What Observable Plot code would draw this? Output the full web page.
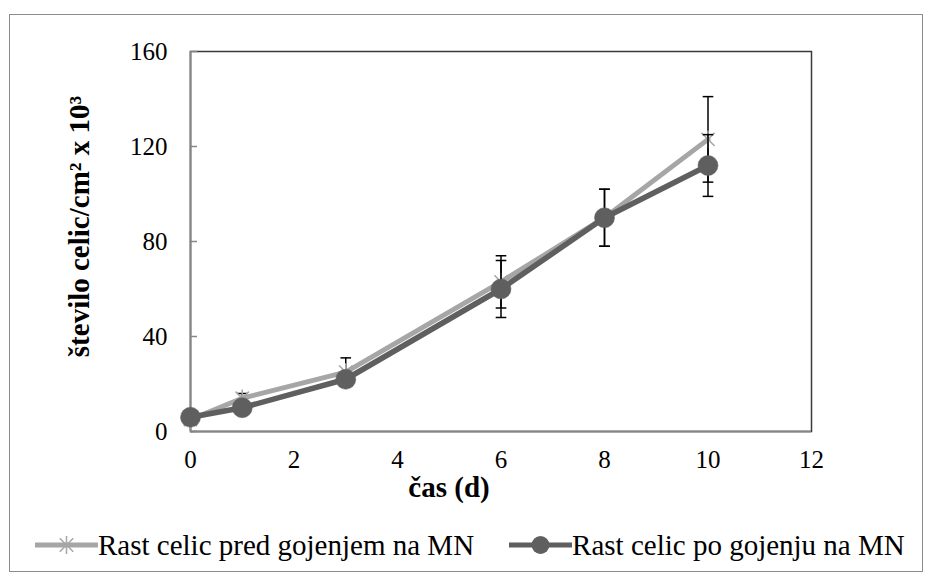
<!DOCTYPE html>
<html>
<head>
<meta charset="utf-8">
<script src="https://cdn.jsdelivr.net/npm/d3@7"></script>
<script src="https://cdn.jsdelivr.net/npm/@observablehq/plot@0.6"></script>
<style>
  html, body { margin: 0; padding: 0; background: #fff; }
  #wrap { position: relative; width: 925px; height: 583px; font-family: "Liberation Serif", "Times New Roman", serif; overflow: hidden; }
  #frame { position: absolute; left: 9px; top: 14px; width: 914px; height: 558px; border: 1.5px solid #8c8c8c; box-sizing: border-box; pointer-events: none; }
  #chart { position: absolute; left: 0; top: 0; }
  #legend { position: absolute; left: 35px; top: 527px; display: flex; align-items: center; font-size: 29px; line-height: 36px; color: #000; white-space: nowrap; }
  .item { display: flex; align-items: center; }
  .item svg { display: block; }
</style>
</head>
<body>
<div id="wrap">
  <div id="frame"></div>
  <div id="chart"></div>
  <div id="legend"></div>
</div>
<script>
// ---- data ----
const days = [0, 1, 3, 6, 8, 10];
const predValues = [5, 14, 25, 63, 90, 123];
const predErrors = [1.5, 2, 6, 11, 12, 18];
const poValues = [6, 10, 22, 60, 90, 112];
const poErrors = [1, 1.5, 3, 12, 12, 13];
const seriesNames = ["Rast celic pred gojenjem na MN", "Rast celic po gojenju na MN"];
const xTicks = [0, 2, 4, 6, 8, 10, 12];
const yTicks = [0, 40, 80, 120, 160];
const xTitle = "čas (d)";
const yTitle = "število celic/cm² x 10³";

const lightGray = "#a6a6a6";
const darkGray = "#5f5f5f";

const pred = days.map((d, i) => ({x: d, y: predValues[i], lo: predValues[i] - predErrors[i], hi: predValues[i] + predErrors[i]}));
const po = days.map((d, i) => ({x: d, y: poValues[i], lo: poValues[i] - poErrors[i], hi: poValues[i] + poErrors[i]}));

// custom symbols
const asterisk = {
  draw(ctx, size) {
    const r = Math.sqrt(size) / 2;
    const d = r * 0.75;
    ctx.moveTo(-d, -d); ctx.lineTo(d, d);
    ctx.moveTo(-d, d); ctx.lineTo(d, -d);
    ctx.moveTo(0, -r); ctx.lineTo(0, r);
  }
};
const cap = {
  draw(ctx, size) {
    const r = Math.sqrt(size) / 2;
    ctx.moveTo(-r, 0); ctx.lineTo(r, 0);
  }
};

function errorMarks(data) {
  return [
    Plot.ruleX(data, {x: "x", y1: "lo", y2: "hi", stroke: "#000", strokeWidth: 1.5}),
    Plot.dot(data, {x: "x", y: "lo", symbol: cap, r: 6, stroke: "#000", strokeWidth: 1.5}),
    Plot.dot(data, {x: "x", y: "hi", symbol: cap, r: 6, stroke: "#000", strokeWidth: 1.5})
  ];
}

const chart = Plot.plot({
  width: 925,
  height: 510,
  marginLeft: 190,
  marginRight: 114,
  marginTop: 51,
  marginBottom: 79,
  style: {fontFamily: "'Liberation Serif', 'Times New Roman', serif", fontSize: "25px", color: "#000", background: "transparent"},
  x: {domain: [0, 12]},
  y: {domain: [0, 160]},
  marks: [
    Plot.frame({stroke: "#3a3a3a", strokeWidth: 1.5}),
    Plot.ruleX([0], {stroke: "#868686", strokeWidth: 2}),
    Plot.ruleY([0], {stroke: "#868686", strokeWidth: 2}),
    Plot.axisY({ticks: yTicks, tickSize: -7, text: null, stroke: "#868686", strokeWidth: 1.5}),
    Plot.axisY({ticks: yTicks, tickSize: 0, tickPadding: 23, label: null, fontSize: 25}),
    Plot.axisX({ticks: xTicks, tickSize: 0, tickPadding: 19, label: null, fontSize: 25}),
    Plot.text([yTitle], {frameAnchor: "left", dx: -111, dy: -15, rotate: -90, textAnchor: "middle", lineAnchor: "middle", fontWeight: "bold", fontSize: 29}),
    Plot.text([xTitle], {frameAnchor: "bottom", dx: -52, dy: 56, textAnchor: "middle", lineAnchor: "middle", fontWeight: "bold", fontSize: 29}),
    ...errorMarks(pred),
    Plot.line(pred, {x: "x", y: "y", stroke: lightGray, strokeWidth: 5, strokeLinejoin: "round"}),
    Plot.dot(pred, {x: "x", y: "y", symbol: asterisk, r: 10, stroke: lightGray, strokeWidth: 1.5}),
    ...errorMarks(po),
    Plot.line(po, {x: "x", y: "y", stroke: darkGray, strokeWidth: 5.5, strokeLinejoin: "round"}),
    Plot.dot(po, {x: "x", y: "y", r: 10, fill: darkGray, stroke: darkGray, strokeWidth: 0.5})
  ]
});
document.getElementById("chart").appendChild(chart);

// legend
function swatch(color, marker) {
  const ns = "http://www.w3.org/2000/svg";
  const svg = document.createElementNS(ns, "svg");
  svg.setAttribute("width", 63);
  svg.setAttribute("height", 26);
  const line = document.createElementNS(ns, "line");
  line.setAttribute("x1", 0); line.setAttribute("x2", 63);
  line.setAttribute("y1", 13); line.setAttribute("y2", 13);
  line.setAttribute("stroke", color); line.setAttribute("stroke-width", 5);
  svg.appendChild(line);
  if (marker === "circle") {
    const c = document.createElementNS(ns, "circle");
    c.setAttribute("cx", 31.5); c.setAttribute("cy", 13); c.setAttribute("r", 9);
    c.setAttribute("fill", color);
    svg.appendChild(c);
  } else {
    const p = document.createElementNS(ns, "path");
    const r = 9, d = 6.75;
    p.setAttribute("d", `M${31.5 - d},${13 - d}L${31.5 + d},${13 + d}M${31.5 - d},${13 + d}L${31.5 + d},${13 - d}M31.5,${13 - r}L31.5,${13 + r}`);
    p.setAttribute("stroke", color); p.setAttribute("stroke-width", 1.5); p.setAttribute("fill", "none");
    svg.appendChild(p);
  }
  return svg;
}
const legend = document.getElementById("legend");
[[seriesNames[0], lightGray, "asterisk"], [seriesNames[1], darkGray, "circle"]].forEach(([name, color, marker], i) => {
  const item = document.createElement("div");
  item.className = "item";
  if (i > 0) item.style.marginLeft = "35px";
  item.appendChild(swatch(color, marker));
  const t = document.createElement("span");
  t.textContent = name;
  item.appendChild(t);
  legend.appendChild(item);
});
</script>
</body>
</html>
